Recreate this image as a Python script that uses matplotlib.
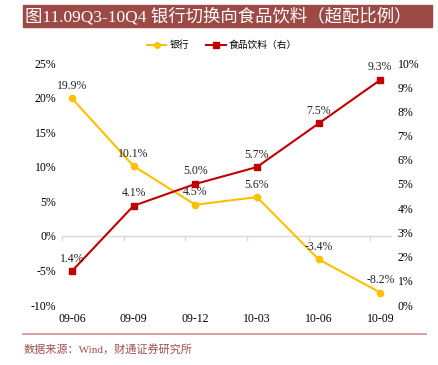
import matplotlib
matplotlib.use("Agg")
import matplotlib.pyplot as plt
from matplotlib.lines import Line2D

categories = ["09-06", "09-09", "09-12", "10-03", "10-06", "10-09"]
bank = [19.9, 10.1, 4.5, 5.6, -3.4, -8.2]
food = [1.4, 4.1, 5.0, 5.7, 7.5, 9.3]
left_ticks = [-10, -5, 0, 5, 10, 15, 20, 25]
right_ticks = [0, 1, 2, 3, 4, 5, 6, 7, 8, 9, 10]

YEL = "#FFC000"
RED = "#C00000"
SERIF = ["Liberation Serif", "Noto Sans CJK SC"]
CJK = ["Noto Sans CJK SC", "DejaVu Sans"]
TITLE_F = ["Liberation Serif", "Noto Sans CJK SC"]

fig = plt.figure(figsize=(4.38, 3.65), dpi=100)
W, H = 438, 365

# title bar
fig.patches.append(plt.Rectangle((23 / W, 1 - 27 / H), (432 - 23) / W, 22 / H,
                                 transform=fig.transFigure, color="#9C4A46", zorder=0))
fig.text(25 / W, 1 - 16.5 / H, "图11.09Q3-10Q4 银行切换向食品饮料（超配比例）",
         color="white", fontsize=12.5, va="center", ha="left", family=TITLE_F)

ax = fig.add_axes([62 / W, 1 - 305 / H, 330 / W, 242 / H])
ax2 = ax.twinx()
x = list(range(len(categories)))

ax.plot(x, bank, color=YEL, lw=1.5, marker="o", ms=4.5, zorder=3)
ax2.plot(x, food, color=RED, lw=1.5, marker="s", ms=4.5, zorder=3)

ax.set_xlim(-0.16, 5.19)
ax.set_ylim(-10, 25)
ax2.set_ylim(0, 10)
ax.set_yticks(left_ticks)
ax.set_yticklabels([f"{t}%" for t in left_ticks], family=SERIF, fontsize=8.5)
ax2.set_yticks(right_ticks)
ax2.set_yticklabels([f"{t}%" for t in right_ticks], family=SERIF, fontsize=8.5)
ax.set_xticks(x)
ax.set_xticklabels(categories, family=SERIF, fontsize=8.5)
ax.tick_params(axis="both", length=0, pad=4)
ax2.tick_params(axis="both", length=0, pad=4)
ax.tick_params(axis="x", pad=6)

for a in (ax, ax2):
    for s in a.spines.values():
        s.set_visible(False)

# zero line and small ticks
ax.axhline(0, color="#D9D9D9", lw=1, zorder=1)
for i in range(len(categories)):
    ax.plot([i - 0.16, i - 0.16], [0, -0.6], color="#D9D9D9", lw=1, zorder=1, clip_on=False)

for xi, v in zip(x, bank):
    ax.annotate(f"{v:.1f}%", (xi, v), xytext=(0, 9), textcoords="offset points",
                ha="center", va="center", fontsize=8.5, family=SERIF, color="#222222")
for xi, v in zip(x, food):
    ax2.annotate(f"{v:.1f}%", (xi, v), xytext=(0, 9), textcoords="offset points",
                 ha="center", va="center", fontsize=8.5, family=SERIF, color="#222222")

handles = [Line2D([], [], color=YEL, lw=1.5, marker="o", ms=4),
           Line2D([], [], color=RED, lw=1.5, marker="s", ms=4)]
fig.legend(handles, ["银行", "食品饮料（右）"], loc="center", bbox_to_anchor=(222 / W, 1 - 45 / H),
           ncol=2, frameon=False, prop={"family": CJK, "size": 7}, handlelength=2,
           columnspacing=1.8, handletextpad=0.3)

# bottom separator and source
fig.add_artist(Line2D([23 / W, 426 / W], [1 - 334 / H, 1 - 334 / H], transform=fig.transFigure,
                      color="#D9A5A3", lw=1.5))
fig.text(24 / W, 1 - 349 / H, "数据来源：Wind，财通证券研究所", color="#A0504C",
         fontsize=8, va="center", ha="left", family=SERIF)

fig.savefig("out.png", dpi=100)
